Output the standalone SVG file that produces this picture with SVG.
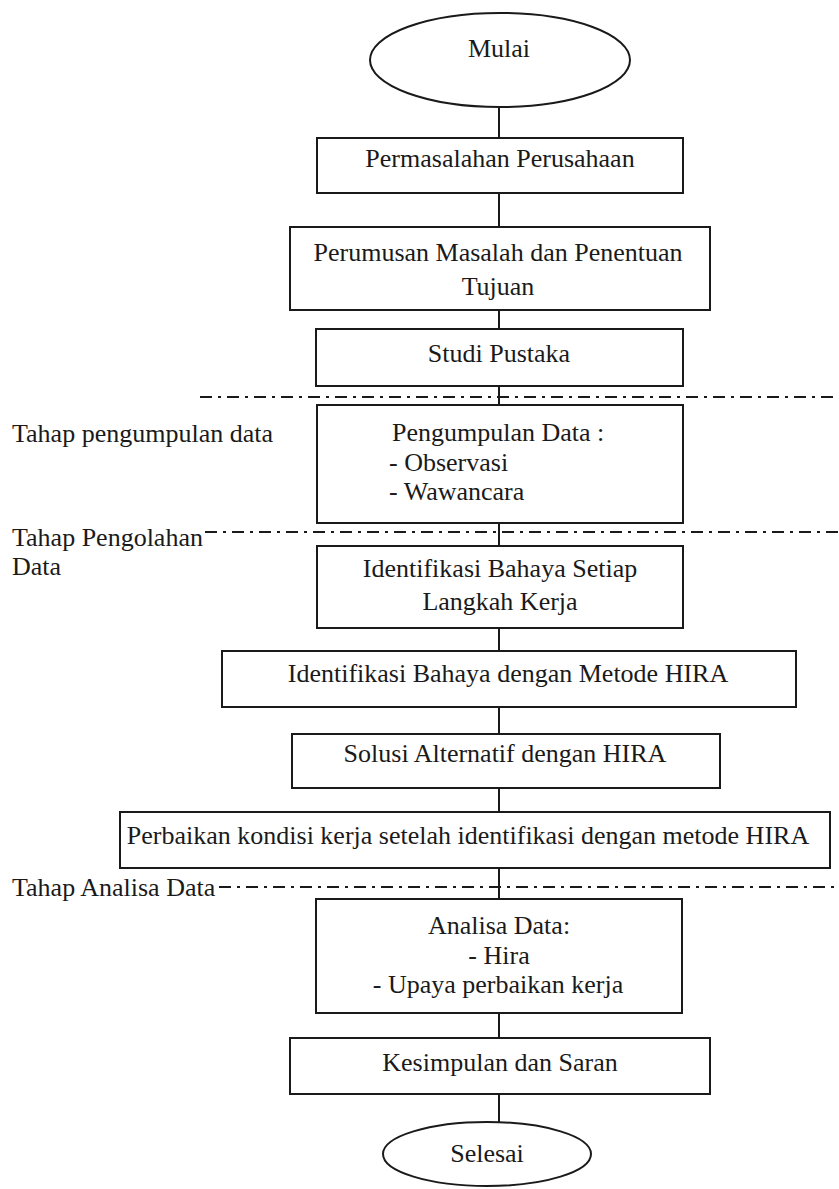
<svg xmlns="http://www.w3.org/2000/svg" width="839" height="1189" viewBox="0 0 839 1189">
  <style>
    .box { fill: #ffffff; stroke: #1a1a1a; stroke-width: 2; }
    .term { fill: #ffffff; stroke: #1a1a1a; stroke-width: 2; }
    .t { font-family: "Liberation Serif", "Times New Roman", serif; font-size: 26px; fill: #1a1a1a; }
    .c { text-anchor: middle; }
    .link { stroke: #1a1a1a; stroke-width: 2; fill: none; }
    .phase { stroke: #1a1a1a; stroke-width: 2; fill: none; stroke-dasharray: 12 6 3 6; }
  </style>
  <rect x="0" y="0" width="839" height="1189" fill="#ffffff"/>

  <!-- phase separators and labels -->
  <g id="phases">
    <line class="phase" x1="200" y1="397" x2="839" y2="397"/>
    <line class="phase" x1="205" y1="532" x2="839" y2="532"/>
    <line class="phase" x1="219" y1="887" x2="839" y2="887"/>
    <text class="t" x="12" y="442">Tahap pengumpulan data</text>
    <text class="t" x="12" y="546">Tahap Pengolahan</text>
    <text class="t" x="12" y="575">Data</text>
    <text class="t" x="12" y="896">Tahap Analisa Data</text>
  </g>

  <!-- connectors -->
  <g id="connectors">
    <line class="link" x1="499" y1="107" x2="499" y2="138"/>
    <line class="link" x1="499" y1="193" x2="499" y2="227"/>
    <line class="link" x1="499" y1="310" x2="499" y2="329"/>
    <line class="link" x1="499" y1="386" x2="499" y2="405"/>
    <line class="link" x1="499" y1="523" x2="499" y2="546"/>
    <line class="link" x1="499" y1="628" x2="499" y2="651"/>
    <line class="link" x1="499" y1="707" x2="499" y2="734"/>
    <line class="link" x1="499" y1="788" x2="499" y2="812"/>
    <line class="link" x1="499" y1="868" x2="499" y2="899"/>
    <line class="link" x1="499" y1="1013" x2="499" y2="1038"/>
    <line class="link" x1="499" y1="1094" x2="499" y2="1122"/>
  </g>

  <g id="mulai">
    <ellipse class="term" cx="500" cy="60" rx="130" ry="47"/>
    <text class="t c" x="499" y="57">Mulai</text>
  </g>

  <g id="permasalahan">
    <rect class="box" x="317" y="138" width="366" height="55"/>
    <text class="t c" x="500" y="167">Permasalahan Perusahaan</text>
  </g>

  <g id="perumusan">
    <rect class="box" x="290" y="227" width="420" height="83"/>
    <text class="t c" x="498" y="261">Perumusan Masalah dan Penentuan</text>
    <text class="t c" x="498" y="295">Tujuan</text>
  </g>

  <g id="studi-pustaka">
    <rect class="box" x="316" y="329" width="367" height="57"/>
    <text class="t c" x="499" y="362">Studi Pustaka</text>
  </g>

  <g id="pengumpulan">
    <rect class="box" x="317" y="405" width="366" height="118"/>
    <text class="t" x="392" y="441">Pengumpulan Data :</text>
    <text class="t" x="389" y="471">- Observasi</text>
    <text class="t" x="389" y="500">- Wawancara</text>
  </g>

  <g id="identifikasi-langkah">
    <rect class="box" x="317" y="546" width="366" height="82"/>
    <text class="t c" x="500" y="577">Identifikasi Bahaya Setiap</text>
    <text class="t c" x="500" y="610">Langkah Kerja</text>
  </g>

  <g id="identifikasi-hira">
    <rect class="box" x="222" y="651" width="574" height="56"/>
    <text class="t c" x="508" y="682">Identifikasi Bahaya dengan Metode HIRA</text>
  </g>

  <g id="solusi">
    <rect class="box" x="292" y="734" width="428" height="54"/>
    <text class="t c" x="505" y="762">Solusi Alternatif dengan HIRA</text>
  </g>

  <g id="perbaikan">
    <rect class="box" x="120" y="812" width="710" height="56"/>
    <text class="t c" x="468" y="844">Perbaikan kondisi kerja setelah identifikasi dengan metode HIRA</text>
  </g>

  <g id="analisa">
    <rect class="box" x="316" y="899" width="366" height="114"/>
    <text class="t c" x="499" y="934">Analisa Data:</text>
    <text class="t c" x="499" y="964">- Hira</text>
    <text class="t c" x="498" y="993">- Upaya perbaikan kerja</text>
  </g>

  <g id="kesimpulan">
    <rect class="box" x="290" y="1038" width="420" height="56"/>
    <text class="t c" x="500" y="1071">Kesimpulan dan Saran</text>
  </g>

  <g id="selesai">
    <ellipse class="term" cx="487" cy="1154" rx="104" ry="32"/>
    <text class="t c" x="487" y="1162">Selesai</text>
  </g>
</svg>
